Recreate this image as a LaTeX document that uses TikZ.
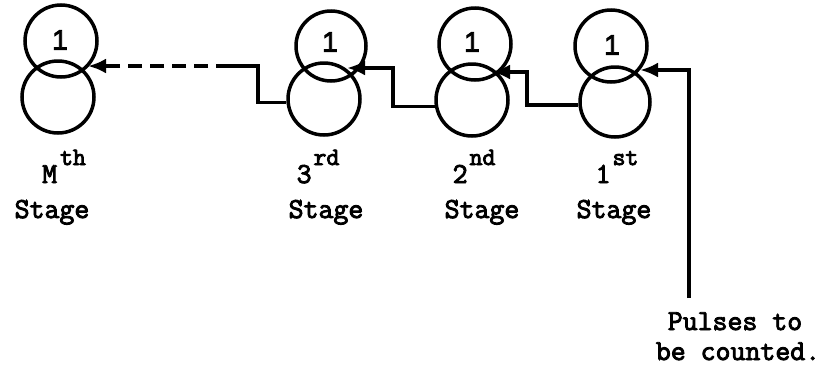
\documentclass[tikz,border=0pt]{standalone}
\usepackage{fontspec}
\setmainfont{Liberation Sans}
\usetikzlibrary{arrows.meta,calc}
\newcommand\supsz{\fontsize{25}{28}\selectfont}
\newcommand\heavy[1]{\special{pdf:literal q 2 Tr 0.9 w}#1\special{pdf:literal Q}}
\begin{document}
\begin{tikzpicture}[x=1pt,y=-1pt,
  ring/.style={circle, draw, line width=3.5pt, inner sep=0pt, minimum size=#1},
  wire/.style={line width=3.5pt, line join=miter},
  tipped/.style={-{Latex[length=18pt,width=15pt]}},
  lbl/.style={font=\ttfamily\fontsize{29}{32}\selectfont, inner sep=0pt},
  num/.style={font=\fontsize{28}{30}\selectfont, inner sep=0pt}]
\useasboundingbox[fill=white] (0,0) rectangle (838,378);
% stages: bottom and top rings
\node[ring=72pt] (bM) at (58,97) {};
\node[ring=72pt] (tM) at (61,41) {};
\node[ring=72pt] (b3) at (324,99) {};
\node[ring=70pt] (t3) at (331,46) {};
\node[ring=72pt] (b2) at (472,100) {};
\node[ring=72pt] (t2) at (475,44) {};
\node[ring=70pt] (b1) at (615,102) {};
\node[ring=72pt] (t1) at (611,46) {};
% the ones
\node[num] (nM) at (60,40) {\heavy{1}};
\node[num] (n3) at (330,42) {\heavy{1}};
\node[num] (n2) at (472,42) {\heavy{1}};
\node[num] (n1) at (612,45) {\heavy{1}};
% labels
\node[lbl, anchor=base] (oM) at (64,183) {\heavy{M\hspace{3pt}\raisebox{18pt}{\supsz th}}};
\node[lbl, anchor=base] (o3) at (318,183) {\heavy{3\hspace{2pt}\raisebox{18pt}{\supsz rd}}};
\node[lbl, anchor=base] (o2) at (474,183) {\heavy{2\hspace{2pt}\raisebox{18pt}{\supsz nd}}};
\node[lbl, anchor=base] (o1) at (617,183) {\heavy{1\hspace{2pt}\raisebox{18pt}{\supsz st}}};
\node[lbl, anchor=base] (sM) at (52,218) {\heavy{Stage}};
\node[lbl, anchor=base] (s3) at (326,218) {\heavy{Stage}};
\node[lbl, anchor=base] (s2) at (482,218) {\heavy{Stage}};
\node[lbl, anchor=base] (s1) at (614,218) {\heavy{Stage}};
\node[lbl, anchor=base] (p1) at (735,330) {\heavy{Pulses to}};
\node[lbl, anchor=base] (p2) at (738,360) {\heavy{be counted.}};
% connector points
\coordinate (in) at (689,298);
\coordinate (a1) at (640,70);
\coordinate (c2) at (527,72);
\coordinate (a2) at (492,72);
\coordinate (c3) at (393,68);
\coordinate (a3) at (347,68);
\coordinate (cM) at (258,66);
\coordinate (dM1) at (230,66);
\coordinate (dM2) at (110,66);
\coordinate (aM) at (88,66);
% connectors
\draw[wire,tipped] (in) |- (a1);
\draw[wire,tipped] (b1.185) -| (c2) -- (a2);
\draw[wire,tipped] (b2.190) -| (c3) -- (a3);
\draw[wire] (b3.185) -| (cM) -- (dM1);
\draw[wire,dash pattern=on 14pt off 8pt] (dM1) -- (dM2);
\draw[wire,tipped] (dM2) -- (aM);
\end{tikzpicture}
\end{document}
